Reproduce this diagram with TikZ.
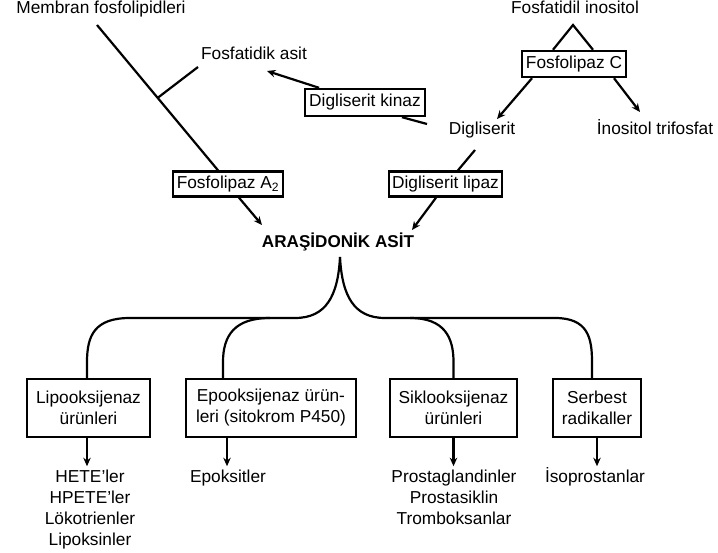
\documentclass[tikz,border=0pt]{standalone}
\usepackage{fontspec}
\setmainfont{Liberation Sans}
\usetikzlibrary{arrows.meta}
\begin{document}
\begin{tikzpicture}[x=1pt,y=-1pt, font=\fontsize{17.3}{21}\selectfont,
  lbl/.style={inner sep=0pt, align=center},
  bx/.style={draw, line width=2.4pt, inner sep=0pt, align=center},
  ln/.style={line width=2.2pt},
  arr/.style={line width=2.2pt, -{Stealth[length=8.5pt,width=7.5pt]}}]
\useasboundingbox (0,0) rectangle (718,553);
% labels
\node[lbl, anchor=base] (membran) at (101,14) {Membran fosfolipidleri};
\node[lbl, anchor=base] (fosfinos) at (575,14) {Fosfatidil inositol};
\node[lbl, anchor=base] (fosfasit) at (254,60) {Fosfatidik asit};
\node[lbl, anchor=base] (diglis) at (482,135) {Digliserit};
\node[lbl, anchor=base] (inos) at (655,135) {İnositol trifosfat};
\node[lbl, anchor=base, font=\fontsize{17.1}{21}\selectfont\bfseries] (aa) at (338,248) {ARAŞİDONİK ASİT};
\node[lbl, anchor=north] (hete) at (90,469.5) {HETE’ler\\HPETE’ler\\Lökotrienler\\Lipoksinler};
\node[lbl, anchor=base] (epoks) at (228,482) {Epoksitler};
\node[lbl, anchor=north] (prosta) at (454,469.5) {Prostaglandinler\\Prostasiklin\\Tromboksanlar};
\node[lbl, anchor=base] (isopro) at (595,482) {İsoprostanlar};
% boxes
\node[bx, minimum width=104pt, minimum height=26pt] (fC) at (574,64) {Fosfolipaz C};
\node[bx, minimum width=120pt, minimum height=27pt] (kinaz) at (365,102.5) {Digliserit kinaz};
\node[bx, minimum width=113pt, minimum height=25pt] (lipaz) at (445.5,184) {Digliserit lipaz};
\node[bx, minimum width=110pt, minimum height=25pt] (fA2) at (228,184) {Fosfolipaz A\textsubscript{2}};
\node[bx, minimum width=123pt, minimum height=58pt] (lipo) at (88.5,408) {Lipooksijenaz\\ürünleri};
\node[bx, minimum width=170pt, minimum height=58pt] (epo) at (271,408) {Epooksijenaz ürün-\\leri (sitokrom P450)};
\node[bx, minimum width=127pt, minimum height=58pt] (siklo) at (453.5,408) {Siklooksijenaz\\ürünleri};
\node[bx, minimum width=88pt, minimum height=58pt] (serbest) at (597,408) {Serbest\\radikaller};
% free-end coordinates
\coordinate (m1) at (97,25);
\coordinate (br1) at (157.5,98);
\coordinate (br2) at (198,67);
\coordinate (fatip) at (267,71);
\coordinate (dg1) at (427,124);
\coordinate (dg2) at (475,150);
\coordinate (apexC) at (573,25);
\coordinate (dgtip) at (497,119);
\coordinate (intip) at (640,112);
\coordinate (aatipL) at (262,225);
\coordinate (aatipR) at (412,230);
\coordinate (fork) at (340,257);
% upper connectors
\draw[ln] (m1) -- ([xshift=-10pt]fA2.north);
\draw[ln] (br1) -- (br2);
\draw[arr] ([xshift=-46pt]kinaz.north) -- (fatip);
\draw[ln] (dg1) -- ([xshift=37pt]kinaz.south);
\draw[ln] ([xshift=-21pt]fC.north) -- (apexC) -- ([xshift=19pt]fC.north);
\draw[arr] ([xshift=-42pt]fC.south) -- (dgtip);
\draw[arr] ([xshift=40pt]fC.south) -- (intip);
\draw[ln] (dg2) -- ([xshift=12.5pt]lipaz.north);
\draw[arr] ([xshift=-9.5pt]lipaz.south) -- (aatipR);
\draw[arr] ([xshift=11pt]fA2.south) -- (aatipL);
% fork
\draw[ln] (fork) .. controls (338,296) and (326,318) .. (295,318) -- (130,318)
  .. controls (95,318) and (87,335) .. (87,362) -- ([xshift=-1.5pt]lipo.north);
\draw[ln] (270,318) .. controls (235,318) and (223,335) .. (223,362) -- ([xshift=-48pt]epo.north);
\draw[ln] (fork) .. controls (342,296) and (354,318) .. (385,318) -- (555,318)
  .. controls (588,318) and (592,338) .. (592,362) -- ([xshift=-5pt]serbest.north);
\draw[ln] (410,318) .. controls (445,318) and (453.5,338) .. (453.5,362) -- (siklo.north);
% lower arrows
\draw[arr] ([xshift=-1.5pt]lipo.south) -- ([xshift=-1.5pt,yshift=-28pt]lipo.south);
\draw[arr] ([xshift=-44pt]epo.south) -- ([xshift=-44pt,yshift=-28pt]epo.south);
\draw[arr] (siklo.south) -- ([yshift=-28pt]siklo.south);
\draw[arr] (serbest.south) -- ([yshift=-28pt]serbest.south);
\end{tikzpicture}
\end{document}
